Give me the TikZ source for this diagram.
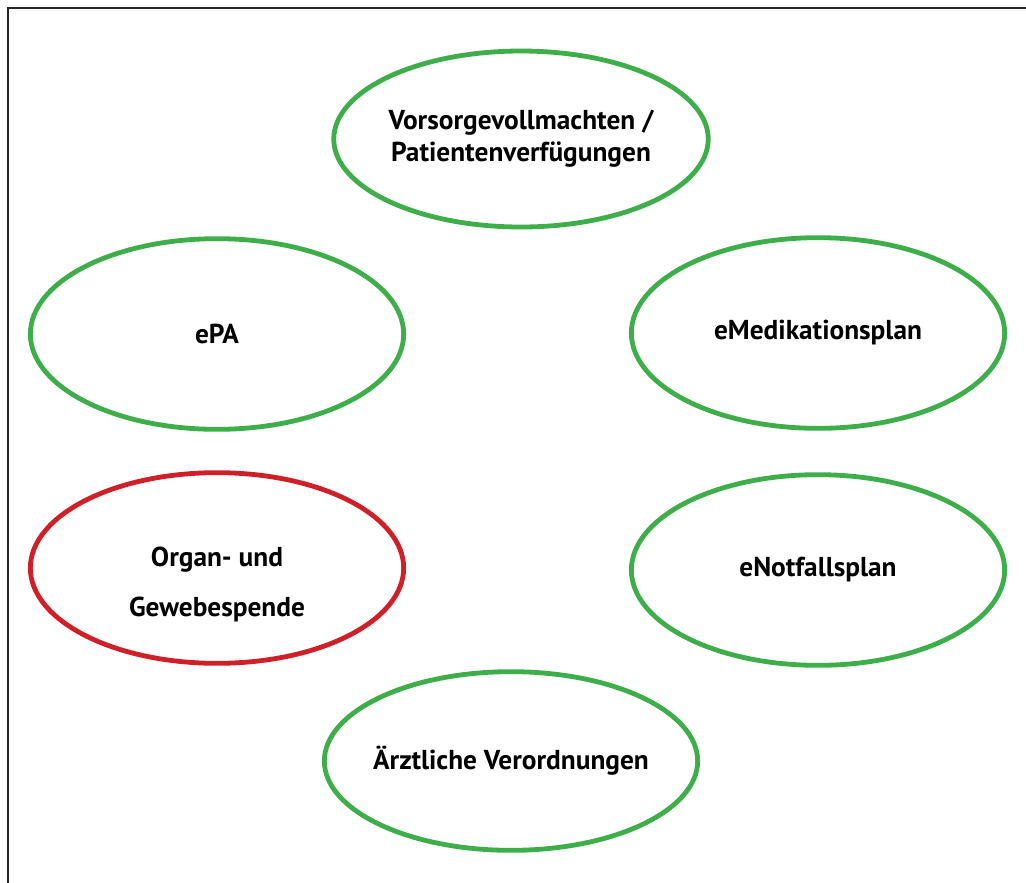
\documentclass[tikz,border=0pt]{standalone}
\usepackage{fontspec}
\setmainfont{PT Sans}
\usetikzlibrary{shapes.geometric}
\definecolor{okgreen}{RGB}{61,174,73}
\definecolor{nored}{RGB}{208,32,39}
\tikzset{
  blase/.style={
    ellipse,
    draw=okgreen, line width=3.6pt,
    minimum width=280pt,
    minimum height=143pt,
    inner sep=0pt,
    align=center,
    font=\fontsize{20.5}{24}\selectfont\bfseries},
  roteblase/.style={blase, draw=nored},
  rahmen/.style={draw=black!85, line width=2.2pt},
}
\begin{document}
\begin{tikzpicture}[x=0.75pt, y=-0.75pt]
  \useasboundingbox (0,0) rectangle (1026,883);
  \coordinate (ObenLinks) at (8,8);
  \coordinate (ObenRechts) at (1030,8);
  \coordinate (UntenLinks) at (8,890);
  \draw[rahmen] (UntenLinks) -- (ObenLinks) -- (ObenRechts);
  \node[blase, minimum height=132pt] (Vorsorge) at (521,139) {Vorsorgevollmachten /\\Patientenverfügungen};
  \node[blase] (ePA) at (217,334) {ePA};
  \node[blase] (eMedikation) at (818,333) {eMedikationsplan};
  \node[roteblase, font=\fontsize{20.5}{37.5}\selectfont\bfseries] (Organspende) at (217,568) {\\[2pt]Organ- und\\Gewebespende};
  \node[blase] (eNotfall) at (818,570) {eNotfallsplan};
  \node[blase, minimum height=134pt] (Verordnungen) at (511,761) {\makebox[0pt]{Ärztliche Verordnungen}};
\end{tikzpicture}
\end{document}
